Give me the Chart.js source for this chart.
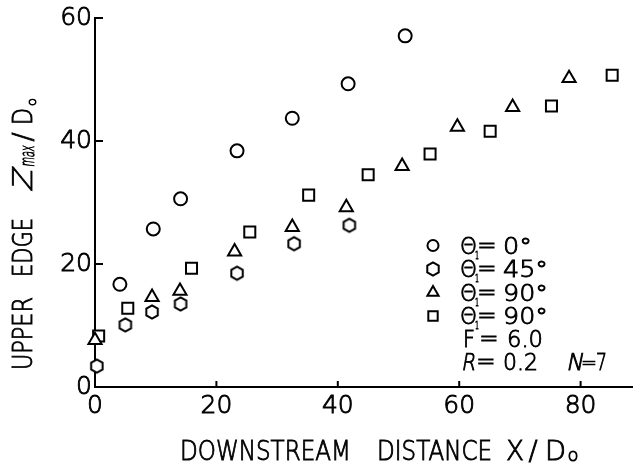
<!DOCTYPE html>
<html>
<head>
<meta charset="utf-8">
<script src="https://cdn.jsdelivr.net/npm/chart.js@4.4.1/dist/chart.umd.min.js"></script>
<style>
  html, body { margin: 0; padding: 0; background: #fff; }
  canvas { display: block; }
</style>
</head>
<body>
<canvas id="plume" width="642" height="467"></canvas>
<script>
// upper edge of the plume, Zmax/Do, against downstream distance X/Do
const xTheta0 = [4.1, 9.6, 14.1, 23.4, 32.5, 41.7, 51.1];
const zTheta0 = [16.7, 25.7, 30.6, 38.4, 43.7, 49.3, 57.1];

const xTheta45 = [0.3, 5.0, 9.4, 14.1, 23.4, 32.8, 41.9];
const zTheta45 = [3.4, 10.1, 12.2, 13.5, 18.5, 23.3, 26.3];

const xTheta90a = [0, 9.4, 14.0, 23.0, 32.5, 41.4, 50.6, 59.7, 68.8, 78.1];
const zTheta90a = [7.6, 14.6, 15.6, 22.0, 26.0, 29.2, 35.9, 42.3, 45.5, 50.2];

const xTheta90b = [0.6, 5.4, 15.9, 25.5, 35.2, 45.0, 55.2, 65.1, 75.2, 85.2];
const zTheta90b = [8.3, 12.8, 19.3, 25.2, 31.2, 34.5, 37.9, 41.6, 45.7, 50.7];

const legendLabels = ['0°', '45°', '90°', '90°'];
const froude = '6.0';
const ratioR = '0.2';
const portsN = '7';

const xTicks = [0, 20, 40, 60, 80];
const yTicks = [0, 20, 40, 60];

const pairs = (xs, ys) => xs.map((x, i) => ({ x: x, y: ys[i] }));

// hexagon marker, pointy top, white inside
function hexagon(r, lw) {
  const size = Math.ceil(2 * r + lw + 2);
  const c = document.createElement('canvas');
  c.width = c.height = size;
  const g = c.getContext('2d');
  g.translate(size / 2, size / 2);
  g.beginPath();
  for (let i = 0; i < 6; i++) {
    const a = Math.PI / 2 + i * Math.PI / 3;
    g.lineTo(r * Math.cos(a), r * Math.sin(a));
  }
  g.closePath();
  g.fillStyle = '#fff';
  g.fill();
  g.lineWidth = lw;
  g.strokeStyle = '#000';
  g.stroke();
  return c;
}

const hexMark = hexagon(6.6, 2);

const markers = [
  { pointStyle: 'circle', pointRadius: 6.5 },
  { pointStyle: hexMark, pointRadius: 6.6 },
  { pointStyle: 'triangle', pointRadius: 7.6 },
  { pointStyle: 'rect', pointRadius: 7.8 }
];

const series = [
  pairs(xTheta0, zTheta0),
  pairs(xTheta45, zTheta45),
  pairs(xTheta90a, zTheta90a),
  pairs(xTheta90b, zTheta90b)
];

const PEN = 0.9;

// draws text squeezed or stretched to fill [x0, x1]; slant > 0 leans it
function fitText(ctx, text, font, x0, x1, base, slant) {
  ctx.font = font;
  const w = ctx.measureText(text).width;
  ctx.save();
  ctx.translate(x0, base);
  ctx.scale((x1 - x0) / w, 1);
  if (slant) ctx.transform(1, 0, -slant, 1, 0, 0);
  ctx.fillText(text, 0, 0);
  ctx.strokeText(text, 0, 0);
  ctx.restore();
}

// plain text centred on cx
function midText(ctx, text, font, cx, base) {
  ctx.font = font;
  ctx.textAlign = 'center';
  ctx.fillText(text, cx, base);
  ctx.strokeText(text, cx, base);
  ctx.textAlign = 'left';
}

const FONT = '"DejaVu Sans", sans-serif';
const LIGHT = '200 ';

// small inward ticks on both axes
const innerTicks = {
  id: 'innerTicks',
  beforeDatasetsDraw(chart) {
    const { ctx, chartArea: a, scales: { x, y } } = chart;
    ctx.save();
    ctx.strokeStyle = '#000';
    ctx.lineWidth = 2;
    ctx.beginPath();
    xTicks.slice(1).forEach(v => {
      const px = x.getPixelForValue(v);
      ctx.moveTo(px, a.bottom);
      ctx.lineTo(px, a.bottom - 6);
    });
    yTicks.slice(1).forEach(v => {
      const py = y.getPixelForValue(v);
      ctx.moveTo(a.left, py);
      ctx.lineTo(a.left + 8, py);
    });
    ctx.stroke();
    ctx.restore();
  }
};

// axis titles with subscripts
const axisTitles = {
  id: 'axisTitles',
  afterDraw(chart) {
    const ctx = chart.ctx;
    ctx.save();
    ctx.fillStyle = '#000';
    ctx.strokeStyle = '#000';
    ctx.lineWidth = PEN;
    ctx.textBaseline = 'alphabetic';
    const big = LIGHT + '27px ' + FONT;

    // x title
    fitText(ctx, 'DOWNSTREAM', big, 180, 351, 460);
    fitText(ctx, 'DISTANCE', big, 377, 492, 460);
    fitText(ctx, 'X', big, 506, 524, 460);
    midText(ctx, '/', big, 533, 460);
    fitText(ctx, 'D', big, 545, 566, 460);
    midText(ctx, 'o', LIGHT + '18px ' + FONT, 573, 461);

    // y title, reading upward
    ctx.translate(32, 0);
    ctx.rotate(-Math.PI / 2);
    fitText(ctx, 'UPPER', big, -370, -297, 0);
    fitText(ctx, 'EDGE', big, -277, -218, 0);
    fitText(ctx, 'Z', big, -192, -170, 0, 0.22);
    fitText(ctx, 'max', LIGHT + '20px ' + FONT, -167, -146, 2, 0.22);
    midText(ctx, '/', big, -137, 0);
    fitText(ctx, 'D', big, -125, -108, 0);
    midText(ctx, 'o', LIGHT + '13px ' + FONT, -102, 4);
    ctx.restore();
  }
};

// key drawn inside the plot, lower right
const keyBox = {
  id: 'keyBox',
  afterDraw(chart) {
    const ctx = chart.ctx;
    const rows = [245.5, 269, 292.5, 316, 339, 362];
    ctx.save();
    ctx.strokeStyle = '#000';
    ctx.lineWidth = 2;
    markers.forEach((m, i) => {
      ctx.fillStyle = '#fff';
      Chart.helpers.drawPoint(ctx, {
        pointStyle: m.pointStyle,
        radius: m.pointRadius * 0.85,
        borderWidth: 2,
        rotation: 0
      }, 433, rows[i]);
    });
    ctx.fillStyle = '#000';
    ctx.lineWidth = PEN;
    const f = LIGHT + '23px ' + FONT;
    legendLabels.forEach((lab, i) => {
      const b = rows[i] + 8;
      fitText(ctx, 'Θ', f, 460, 477, b);
      fitText(ctx, '1', LIGHT + '11px ' + FONT, 475, 479, b + 5);
      midText(ctx, '=', f, 487, b - 1);
      const w = lab.length > 2 ? 45 : 29;
      fitText(ctx, lab, f, 503, 503 + w, b);
    });
    let b = rows[4] + 8;
    fitText(ctx, 'F', f, 463, 475, b);
    midText(ctx, '=', f, 489, b - 1);
    fitText(ctx, froude, f, 507, 543, b);
    b = rows[5] + 8;
    fitText(ctx, 'R', f, 461, 475, b, 0.2);
    midText(ctx, '=', f, 486, b - 1);
    fitText(ctx, ratioR, f, 503, 538, b);
    fitText(ctx, 'N', f, 566, 583, b, 0.2);
    midText(ctx, '=', LIGHT + '19px ' + FONT, 589, b - 1);
    fitText(ctx, portsN, f, 596, 607, b);
    ctx.restore();
  }
};

const tickFont = { family: FONT, size: 25, weight: '200' };

new Chart(document.getElementById('plume'), {
  type: 'scatter',
  data: {
    datasets: series.map((pts, i) => ({
      data: pts,
      pointStyle: markers[i].pointStyle,
      pointRadius: markers[i].pointRadius,
      pointBorderWidth: 2,
      pointBorderColor: '#000',
      pointBackgroundColor: '#fff',
      showLine: false,
      clip: false
    }))
  },
  options: {
    responsive: false,
    animation: false,
    events: [],
    layout: { padding: { top: 18, right: 2, left: 0, bottom: 0 } },
    plugins: {
      legend: { display: false },
      tooltip: { enabled: false }
    },
    scales: {
      x: {
        type: 'linear',
        min: 0,
        max: 88.5,
        grid: { display: false, drawTicks: false },
        border: { display: true, color: '#000', width: 2 },
        ticks: {
          color: '#000', padding: 4, font: tickFont,
          textStrokeColor: '#000', textStrokeWidth: PEN
        },
        afterBuildTicks: s => { s.ticks = xTicks.map(v => ({ value: v })); },
        afterFit: s => { s.height = 80; }
      },
      y: {
        type: 'linear',
        min: 0,
        max: 60,
        grid: { display: false, drawTicks: false },
        border: { display: true, color: '#000', width: 2 },
        ticks: {
          color: '#000', padding: 3, font: tickFont,
          textStrokeColor: '#000', textStrokeWidth: PEN
        },
        afterBuildTicks: s => { s.ticks = yTicks.map(v => ({ value: v })); },
        afterFit: s => { s.width = 95; }
      }
    }
  },
  plugins: [innerTicks, axisTitles, keyBox]
});
</script>
</body>
</html>
